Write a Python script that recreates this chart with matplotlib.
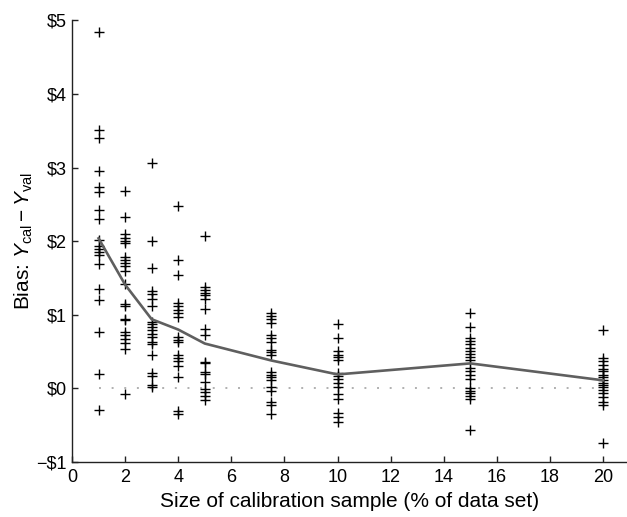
import matplotlib
matplotlib.use("Agg")
import matplotlib.pyplot as plt

plt.rcParams['font.family'] = ['Liberation Sans', 'DejaVu Sans']
plt.rcParams['mathtext.fontset'] = 'custom'
plt.rcParams['mathtext.rm'] = 'Liberation Sans'
plt.rcParams['mathtext.it'] = 'Liberation Sans:italic'

# Sample sizes (% of data set)
sizes = [1, 2, 3, 4, 5, 7.5, 10, 15, 20]

# Individual bias values for each sample size
bias_1 = [4.85, 3.51, 3.40, 2.96, 2.74, 2.67, 2.42, 2.30, 2.02, 1.93, 1.89,
          1.85, 1.81, 1.69, 1.35, 1.20, 0.76, 0.20, -0.30]
bias_2 = [2.68, 2.33, 2.10, 2.05, 2.01, 1.97, 1.78, 1.74, 1.71, 1.66, 1.60,
          1.42, 1.15, 1.12, 0.95, 0.93, 0.77, 0.72, 0.67, 0.62, 0.54, -0.07]
bias_3 = [3.06, 2.00, 1.63, 1.32, 1.28, 1.22, 1.12, 0.90, 0.87, 0.83, 0.79,
          0.74, 0.70, 0.63, 0.60, 0.45, 0.21, 0.17, 0.05, 0.02]
bias_4 = [2.48, 1.74, 1.54, 1.16, 1.12, 1.07, 1.02, 0.97, 0.70, 0.66, 0.63,
          0.46, 0.42, 0.37, 0.30, 0.16, -0.31, -0.35]
bias_5 = [2.07, 1.38, 1.34, 1.30, 1.27, 1.22, 1.08, 0.81, 0.72, 0.36, 0.34,
          0.22, 0.20, 0.09, -0.01, -0.05, -0.10, -0.16]
bias_7_5 = [1.03, 0.98, 0.94, 0.89, 0.73, 0.69, 0.63, 0.52, 0.49, 0.46, 0.22,
            0.18, 0.15, 0.11, 0.02, -0.04, -0.19, -0.22, -0.35]
bias_10 = [0.88, 0.68, 0.51, 0.46, 0.43, 0.38, 0.21, 0.17, 0.13, 0.08, 0.02,
           -0.07, -0.14, -0.34, -0.39, -0.45]
bias_15 = [1.03, 0.83, 0.69, 0.64, 0.60, 0.55, 0.51, 0.47, 0.43, 0.38, 0.28,
           0.23, 0.18, 0.13, 0.01, -0.03, -0.06, -0.10, -0.14, -0.57]
bias_20 = [0.79, 0.41, 0.37, 0.32, 0.27, 0.23, 0.18, 0.15, 0.11, 0.08, 0.05,
           0.02, -0.02, -0.06, -0.11, -0.19, -0.23, -0.74]

# Average bias line
avg_bias = [2.04, 1.41, 0.94, 0.80, 0.61, 0.38, 0.19, 0.34, 0.11]

xticks = [0, 2, 4, 6, 8, 10, 12, 14, 16, 18, 20]
yticks = [-1, 0, 1, 2, 3, 4, 5]
ytick_labels = ['\u2212$1', '$0', '$1', '$2', '$3', '$4', '$5']

all_bias = [bias_1, bias_2, bias_3, bias_4, bias_5, bias_7_5,
            bias_10, bias_15, bias_20]

fig = plt.figure(figsize=(6.27, 5.17), dpi=100)
ax = fig.add_axes([72/627, 1 - 462/517, 1 - 72/627, (462 - 20.5)/517])

# zero reference line
ax.plot([sizes[0], sizes[-1]], [0, 0], color='#b0b0b0', lw=1.4,
        linestyle=(0, (1, 5.5)), zorder=1)

for s, vals in zip(sizes, all_bias):
    ax.plot([s] * len(vals), vals, linestyle='none', marker='+',
            color='black', markersize=6.5, markeredgewidth=1.0, zorder=2)

ax.plot(sizes, avg_bias, color='#5f5f5f', lw=1.9, zorder=3)

ax.set_xlim(0, 20.9)
ax.set_ylim(-1, 5)
ax.set_xticks(xticks)
ax.set_yticks(yticks)
ax.set_yticklabels(ytick_labels)

for sp in ['top', 'right']:
    ax.spines[sp].set_visible(False)
for sp in ['left', 'bottom']:
    ax.spines[sp].set_linewidth(1.0)
    ax.spines[sp].set_color('#222222')

ax.tick_params(direction='in', length=4, width=1.0, labelsize=13,
               color='#222222')
ax.tick_params(axis='y', pad=4)
ax.tick_params(axis='x', pad=5)

ax.set_xlabel('Size of calibration sample (% of data set)', fontsize=15)
ax.xaxis.set_label_coords(0.5, -0.068)
ax.set_ylabel(r'Bias: $\mathit{Y}_{\mathrm{cal}} - \mathit{Y}_{\mathrm{val}}$',
              fontsize=15)
ax.yaxis.set_label_coords(-0.066, 0.5)

fig.savefig('out.png', dpi=100)
